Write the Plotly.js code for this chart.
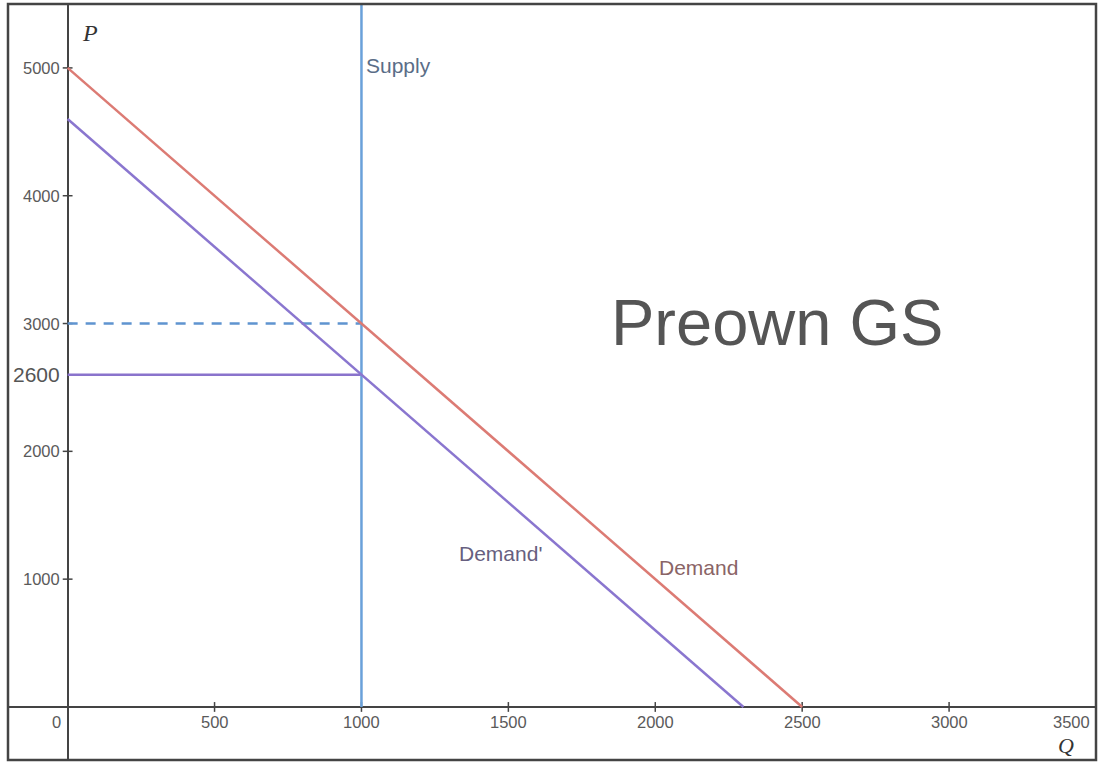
<!DOCTYPE html>
<html>
<head>
<meta charset="utf-8">
<script src="https://cdn.plot.ly/plotly-3.0.1.min.js"></script>
<style>html,body{margin:0;padding:0;background:#fff;}#chart{width:1105px;height:773px;}</style>
</head>
<body>
<div id="chart"></div>
<script>
// Data
const demandQ = [0, 2500];
const demandP = [5000, 0];
const demandPrimeQ = [0, 2300];
const demandPrimeP = [4600, 0];
const supplyQ = [1000, 1000];
const supplyP = [0, 6000];
const eqPriceQ = [0, 1000];
const eqPriceP = [3000, 3000];
const newPriceQ = [0, 1000];
const newPriceP = [2600, 2600];
const xTickVals = [500, 1000, 1500, 2000, 2500, 3000, 3500];
const xTickText = ["500", "1000", "1500", "2000", "2500", "3000", "3500"];
const yTickVals = [1000, 2000, 3000, 4000, 5000];
const yTickText = ["1000", "2000", "3000", "4000", "5000"];

const FONT = "Liberation Sans, Arial, Helvetica, sans-serif";
const SERIF = "Liberation Serif, Times New Roman, serif";

const traces = [
  {x: xTickVals, y: xTickVals.map(() => 0), mode: "markers", type: "scatter",
   marker: {symbol: "line-ns-open", size: 7, color: "#444", line: {color: "#444", width: 1.5}}, hoverinfo: "skip"},
  {x: yTickVals.map(() => 0), y: yTickVals, mode: "markers", type: "scatter",
   marker: {symbol: "line-ew-open", size: 7, color: "#444", line: {color: "#444", width: 1.5}}, hoverinfo: "skip"},
  {x: eqPriceQ, y: eqPriceP, mode: "lines", type: "scatter",
   line: {color: "#5f94d0", width: 2.5, dash: "10px,8px"}},
  {x: newPriceQ, y: newPriceP, mode: "lines", type: "scatter",
   line: {color: "#8a73cc", width: 2.5}},
  {x: supplyQ, y: supplyP, mode: "lines", type: "scatter",
   line: {color: "#6aa1da", width: 2.5}},
  {x: demandPrimeQ, y: demandPrimeP, mode: "lines", type: "scatter",
   line: {color: "#8a76cf", width: 2.5}},
  {x: demandQ, y: demandP, mode: "lines", type: "scatter",
   line: {color: "#dc7b74", width: 2.5}}
];

const annotations = [];
xTickVals.forEach((v, i) => {
  const last = i === xTickVals.length - 1;
  annotations.push({x: v, y: 0, xref: "x", yref: "y", text: xTickText[i], showarrow: false,
    xanchor: last ? "right" : "center", yanchor: "top", yshift: -4, xshift: last ? -4 : 0,
    font: {family: FONT, size: 16.5, color: "#5a5a5a"}});
});
annotations.push({x: 0, y: 0, xref: "x", yref: "y", text: "0", showarrow: false,
  xanchor: "right", yanchor: "top", yshift: -4, xshift: -5, font: {family: FONT, size: 16.5, color: "#5a5a5a"}});
yTickVals.forEach((v, i) => {
  annotations.push({x: 0, y: v, xref: "x", yref: "y", text: yTickText[i], showarrow: false,
    xanchor: "right", yanchor: "middle", xshift: -6, font: {family: FONT, size: 16.5, color: "#5a5a5a"}});
});
annotations.push({x: 0, y: newPriceP[0], xref: "x", yref: "y", text: "2600", showarrow: false,
  xanchor: "right", yanchor: "middle", xshift: -6, font: {family: FONT, size: 21, color: "#555"}});
annotations.push({x: 76, y: 5274, xref: "x", yref: "y", text: "<i>P</i>", showarrow: false,
  font: {family: SERIF, size: 24, color: "#333"}});
annotations.push({x: 3398, y: -300, xref: "x", yref: "y", text: "<i>Q</i>", showarrow: false,
  font: {family: SERIF, size: 22, color: "#333"}});
annotations.push({x: 1000, y: 5016, xref: "x", yref: "y", text: "Supply", showarrow: false,
  xanchor: "left", xshift: 3, font: {family: FONT, size: 21, color: "#5a6d87"}});
annotations.push({x: 1473, y: 1197, xref: "x", yref: "y", text: "Demand'", showarrow: false,
  font: {family: FONT, size: 21, color: "#675f80"}});
annotations.push({x: 2147, y: 1095, xref: "x", yref: "y", text: "Demand", showarrow: false,
  font: {family: FONT, size: 21, color: "#8a6466"}});
annotations.push({x: 2413, y: 3005, xref: "x", yref: "y", text: "Preown GS", showarrow: false,
  font: {family: FONT, size: 65, color: "#555"}});

const layout = {
  width: 1105, height: 773,
  margin: {l: 8, r: 9, t: 4, b: 13, pad: 0},
  paper_bgcolor: "#fff", plot_bgcolor: "#fff",
  showlegend: false,
  xaxis: {range: [-203, 3500], showgrid: false, zeroline: true, zerolinecolor: "#444", zerolinewidth: 2,
    showticklabels: false, ticks: "", showline: false, fixedrange: true},
  yaxis: {range: [-415, 5500], showgrid: false, zeroline: true, zerolinecolor: "#444", zerolinewidth: 2,
    showticklabels: false, ticks: "", showline: false, fixedrange: true},
  shapes: [{type: "rect", xref: "paper", yref: "paper", x0: 0, x1: 1, y0: 0, y1: 1,
    line: {color: "#444", width: 2.5}, fillcolor: "rgba(0,0,0,0)"}],
  annotations: annotations
};

Plotly.newPlot("chart", traces, layout, {displayModeBar: false, staticPlot: true});
</script>
</body>
</html>
